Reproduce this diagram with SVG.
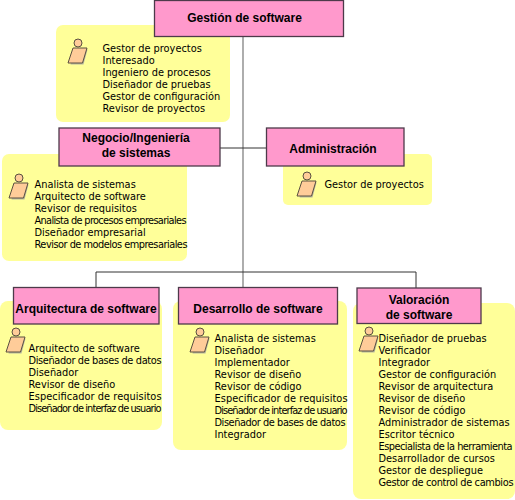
<svg xmlns="http://www.w3.org/2000/svg" width="515" height="500" viewBox="0 0 515 500">
<style>
.y{fill:#ffff99}
.b{fill:#ff99cc;stroke:#4d3a4a;stroke-width:1.3}
.h{font:bold 12px "Liberation Sans",Arial,sans-serif;fill:#000;text-anchor:middle}
.t{font:9.8px "DejaVu Sans",sans-serif;fill:#000}
.c{fill:none;stroke:#333;stroke-width:1}
.g{fill:none;stroke:#777;stroke-width:1.2}
.ah{fill:#ffcc99;stroke:#5a5040;stroke-width:1}
.as{fill:#b8b8a0}
</style>
<defs>
<g id="actor">
<path class="as" d="M6 9h13l-4 15H2z" transform="translate(1.5,1.5)"/>
<circle class="ah" cx="11" cy="4" r="4"/>
<path class="ah" d="M6 9h14l-4.500 15H1z"/>
</g>
</defs>
<rect width="515" height="500" fill="#fff"/>
<g id="notes">
<rect class="y" x="56" y="25" width="174" height="97" rx="7"/>
<rect class="y" x="2" y="154" width="185" height="107" rx="7"/>
<rect class="y" x="283" y="154" width="149" height="51" rx="5"/>
<rect class="y" x="0" y="301" width="162" height="129" rx="8"/>
<rect class="y" x="173" y="301" width="174" height="149" rx="8"/>
<rect class="y" x="353" y="303" width="162" height="196" rx="8"/>
</g>
<g id="connectors">
<path class="g" d="M243 36V287"/>
<path class="c" d="M220 148H266M96 287V272H416V288"/>
</g>
<g id="gestion">
<rect class="b" x="154.500" y="0.500" width="189" height="36"/>
<text class="h" x="244.500" y="22">Gestión de software</text>
<use href="#actor" x="67" y="39"/>
<g class="t"><text x="102.500" y="52">Gestor de proyectos</text><text x="102.500" y="64">Interesado</text><text x="102.500" y="76">Ingeniero de procesos</text><text x="102.500" y="88">Diseñador de pruebas</text><text x="102.500" y="100">Gestor de configuración</text><text x="102.500" y="112">Revisor de proyectos</text></g>
</g>
<g id="negocio">
<rect class="b" x="59" y="128" width="161" height="38"/>
<text class="h" x="136" y="142">Negocio/Ingeniería</text>
<text class="h" x="136" y="157">de sistemas</text>
<use href="#actor" x="8" y="174"/>
<g class="t"><text x="34.500" y="188">Analista de sistemas</text><text x="34.500" y="200">Arquitecto de software</text><text x="34.500" y="212">Revisor de requisitos</text><text x="34.500" y="224" textLength="152">Analista de procesos empresariales</text><text x="34.500" y="236">Diseñador empresarial</text><text x="34.500" y="248" textLength="153">Revisor de modelos empresariales</text></g>
</g>
<g id="administracion">
<rect class="b" x="266.500" y="128" width="137.500" height="38"/>
<text class="h" x="333" y="153">Administración</text>
<use href="#actor" x="296" y="172"/>
<g class="t"><text x="324.500" y="188">Gestor de proyectos</text></g>
</g>
<g id="arquitectura">
<rect class="b" x="13.500" y="287.500" width="145.500" height="36.500"/>
<text class="h" x="86" y="313">Arquitectura de software</text>
<use href="#actor" x="5" y="328"/>
<g class="t"><text x="28.500" y="352">Arquitecto de software</text><text x="28.500" y="364" textLength="133">Diseñador de bases de datos</text><text x="28.500" y="376">Diseñador</text><text x="28.500" y="388">Revisor de diseño</text><text x="28.500" y="400" textLength="133">Especificador de requisitos</text><text x="28.500" y="412" textLength="133">Diseñador de interfaz de usuario</text></g>
</g>
<g id="desarrollo">
<rect class="b" x="178.500" y="287.500" width="159" height="36.500"/>
<text class="h" x="258" y="313">Desarrollo de software</text>
<use href="#actor" x="189" y="328"/>
<g class="t"><text x="214.500" y="342">Analista de sistemas</text><text x="214.500" y="354">Diseñador</text><text x="214.500" y="366">Implementador</text><text x="214.500" y="378">Revisor de diseño</text><text x="214.500" y="390">Revisor de código</text><text x="214.500" y="402" textLength="133">Especificador de requisitos</text><text x="214.500" y="414" textLength="133">Diseñador de interfaz de usuario</text><text x="214.500" y="426" textLength="131">Diseñador de bases de datos</text><text x="214.500" y="438">Integrador</text></g>
</g>
<g id="valoracion">
<rect class="b" x="357" y="288" width="124" height="35.500"/>
<text class="h" x="419" y="304">Valoración</text>
<text class="h" x="419" y="319">de software</text>
<use href="#actor" x="358" y="327"/>
<g class="t"><text x="378.500" y="342">Diseñador de pruebas</text><text x="378.500" y="354">Verificador</text><text x="378.500" y="366">Integrador</text><text x="378.500" y="378">Gestor de configuración</text><text x="378.500" y="390">Revisor de arquitectura</text><text x="378.500" y="402">Revisor de diseño</text><text x="378.500" y="414">Revisor de código</text><text x="378.500" y="426">Administrador de sistemas</text><text x="378.500" y="438">Escritor técnico</text><text x="378.500" y="450" textLength="134">Especialista de la herramienta</text><text x="378.500" y="462">Desarrollador de cursos</text><text x="378.500" y="474">Gestor de despliegue</text><text x="378.500" y="486" textLength="135">Gestor de control de cambios</text></g>
</g>
</svg>
